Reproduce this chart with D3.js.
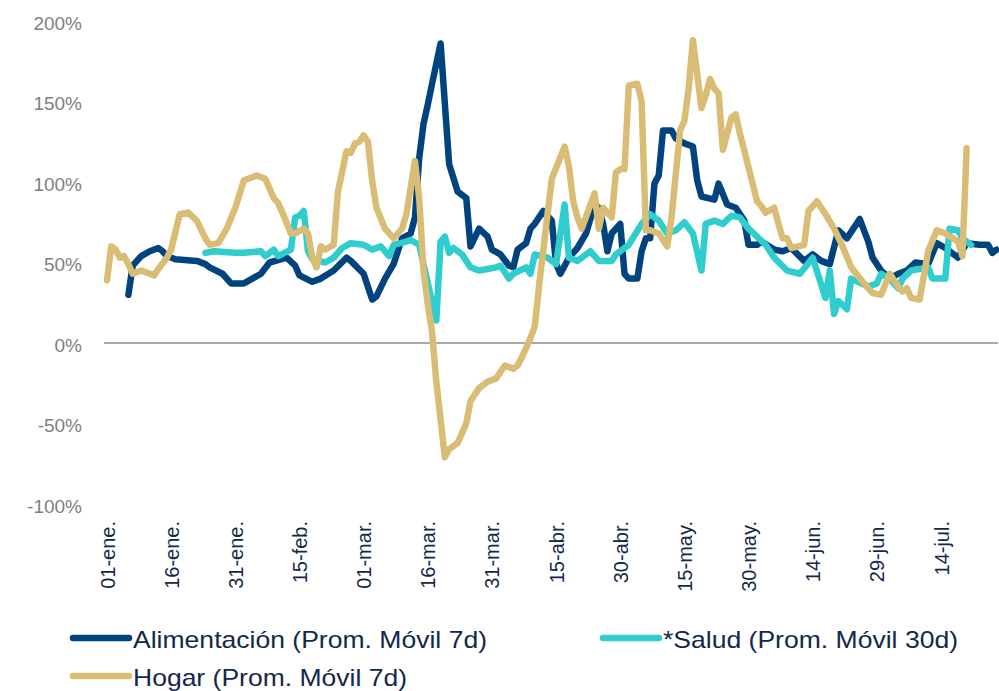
<!DOCTYPE html>
<html>
<head>
<meta charset="utf-8">
<script src="https://cdn.jsdelivr.net/npm/d3@7"></script>
<style>
  body { margin: 0; background: #fff; }
  svg { display: block; font-family: "Liberation Sans", Arial, sans-serif; }
</style>
</head>
<body>
<svg id="plotSvg"></svg>
<script>
// dias desde 01-ene-2020, valor en %
var inicio = "2020-01-01";

var alimentacion = [
  [5,30],[6,48],[8,54],[10,57],[12,59],[13,57],[14,54],[16,52],[21,51],[23,49],[24,47],[27,43],
  [29,37],[32,37],[34,40],[36,43],[38,50],[42,53],[44,48],[45,42],[48,38],[50,40],[53,45],[56,53],
  [57,51],[60,43],[62,27],[63,29],[65,40],[67,49],[69,65],[71,68],[72,78],[73,115],[74,136],[75,148],
  [76,161],[78,186],[80,111],[82,94],[84,90],[85,60],[87,71],[89,66],[90,58],[92,55],[94,48],[95,47],
  [96,58],[98,62],[99,71],[100,74],[102,82],[104,76],[105,49],[106,43],[108,53],[110,59],[112,68],
  [114,86],[115,84],[116,74],[117,57],[118,68],[120,74],[121,43],[122,40],[124,40],[125,57],[126,65],
  [127,65],[128,99],[129,104],[130,132],[132,132],[133,127],[135,124],[137,122],[138,101],[139,91],
  [142,89],[143,99],[145,86],[147,84],[149,76],[150,61],[152,61],[153,63],[156,58],[158,57],[160,59],
  [163,51],[165,55],[167,51],[169,49],[171,70],[173,65],[176,77],[178,63],[179,53],[181,45],[183,40],
  [185,43],[187,45],[189,50],[192,49],[194,62],[196,59],[199,53],[201,62],[204,61],[206,61],[207,56],
  [208,58]
];

var salud = [
  [23,56],[25,57],[30,56],[32,56],[36,57],[37,54],[39,58],[40,54],[43,58],[44,78],[45,79],[46,82],
  [47,57],[48,52],[51,50],[53,53],[55,59],[57,62],[60,61],[62,58],[64,60],[66,54],[67,61],[70,63],
  [71,64],[73,61],[74,49],[77,14],[78,63],[79,66],[80,56],[81,59],[83,55],[85,47],[87,45],[89,46],
  [91,47],[92,48],[94,40],[95,43],[98,47],[99,43],[100,55],[103,53],[105,49],[107,86],[108,53],
  [110,51],[113,57],[115,51],[118,51],[119,55],[122,61],[125,74],[127,80],[129,76],[131,68],[133,70],
  [135,75],[137,68],[139,45],[140,74],[142,76],[144,74],[146,79],[148,78],[150,71],[152,66],[154,61],
  [156,53],[159,45],[162,43],[165,53],[168,28],[169,45],[170,18],[171,26],[173,21],[174,40],[178,35],
  [180,37],[181,43],[183,40],[185,34],[186,40],[188,45],[192,47],[193,40],[196,40],[197,71],[199,70],
  [200,65],[202,61]
];

var hogar = [
  [0,39],[1,60],[2,58],[3,53],[4,54],[5,49],[6,43],[8,45],[10,43],[11,42],[12,46],[14,53],[15,58],
  [17,80],[19,81],[21,76],[23,65],[24,61],[26,62],[28,71],[30,84],[32,101],[33,102],[35,104],[37,102],
  [39,90],[40,87],[41,81],[43,68],[44,68],[46,71],[47,68],[48,53],[49,47],[50,60],[51,58],[53,61],
  [54,94],[56,119],[57,118],[58,124],[59,125],[60,129],[61,125],[62,101],[63,84],[65,71],[67,65],
  [69,71],[70,80],[72,113],[73,90],[74,45],[75,24],[76,7],[77,-24],[79,-71],[80,-66],[82,-62],
  [84,-50],[85,-36],[87,-28],[89,-24],[91,-22],[93,-14],[95,-16],[96,-14],[97,-9],[99,3],[100,10],
  [101,35],[103,80],[104,102],[107,122],[108,110],[109,88],[110,78],[111,71],[114,93],[115,71],
  [116,84],[118,78],[119,106],[120,108],[121,108],[122,160],[124,161],[125,150],[126,70],[127,70],
  [129,68],[131,60],[132,78],[134,132],[135,138],[136,158],[137,188],[139,146],[140,154],[141,164],
  [142,158],[143,155],[144,120],[146,140],[147,142],[148,130],[150,109],[152,88],[153,85],[154,81],
  [156,84],[157,74],[158,65],[159,65],[160,59],[163,61],[164,82],[166,88],[168,80],[170,71],[172,60],
  [174,47],[177,37],[179,31],[181,30],[183,43],[185,35],[186,32],[187,34],[188,28],[190,27],[192,57],
  [194,70],[196,68],[199,63],[200,54],[201,121]
];

var tickDias = [0, 15, 30, 45, 60, 75, 90, 105, 120, 135, 150, 165, 180, 195];
var tickLabels = ["01-ene.", "16-ene.", "31-ene.", "15-feb.", "01-mar.", "16-mar.", "31-mar.",
  "15-abr.", "30-abr.", "15-may.", "30-may.", "14-jun.", "29-jun.", "14-jul."];
var yTicks = [-100, -50, 0, 50, 100, 150, 200];

var series = [
  { nombre: "Alimentación (Prom. Móvil 7d)", datos: alimentacion, color: "#00437f" },
  { nombre: "*Salud (Prom. Móvil 30d)", datos: salud, color: "#2fcdcd" },
  { nombre: "Hogar (Prom. Móvil 7d)", datos: hogar, color: "#d9bd75" }
];

var width = 999, height = 691;
var svg = d3.select("#plotSvg").attr("width", width).attr("height", height);

var t0 = d3.utcParse("%Y-%m-%d")(inicio);
function fecha(d) { return d3.utcDay.offset(t0, d); }

var x = d3.scaleUtc()
  .domain([fecha(0), fecha(195)])
  .range([107, 941]);

var y = d3.scaleLinear()
  .domain([-100, 200])
  .range([504, 21]);

// eje Y (solo etiquetas)
var yAxis = d3.axisLeft(y)
  .tickValues(yTicks)
  .tickSize(0)
  .tickPadding(0)
  .tickFormat(function(d) { return d + "%"; });

var gy = svg.append("g")
  .attr("transform", "translate(82,2)")
  .call(yAxis);
gy.select(".domain").remove();
gy.selectAll("text")
  .attr("fill", "#7f7f7f")
  .attr("font-size", 19)
  .attr("font-family", "Liberation Sans, Arial, sans-serif");

// linea del 0%
svg.append("line")
  .attr("x1", 104)
  .attr("x2", 998)
  .attr("y1", y(0))
  .attr("y2", y(0))
  .attr("stroke", "#8c8c8c")
  .attr("stroke-width", 1.5);

// eje X con etiquetas verticales
var xAxis = d3.axisBottom(x)
  .tickValues(tickDias.map(fecha))
  .tickSize(0)
  .tickFormat(function(d, i) { return tickLabels[i]; });

var gx = svg.append("g")
  .attr("transform", "translate(0,521)")
  .call(xAxis);
gx.select(".domain").remove();
gx.selectAll("text")
  .attr("fill", "#13284a")
  .attr("font-size", 20)
  .attr("font-family", "Liberation Sans, Arial, sans-serif")
  .attr("text-anchor", "end")
  .attr("transform", "rotate(-90)")
  .attr("x", 0)
  .attr("y", 0)
  .attr("dy", "0.35em");

var line = d3.line()
  .x(function(d) { return x(fecha(d[0])); })
  .y(function(d) { return y(d[1]); });

svg.append("g")
  .selectAll("path")
  .data(series)
  .enter().append("path")
  .attr("d", function(s) { return line(s.datos); })
  .attr("fill", "none")
  .attr("stroke", function(s) { return s.color; })
  .attr("stroke-width", 6.5)
  .attr("stroke-linejoin", "round")
  .attr("stroke-linecap", "round");

// leyenda
var legendPos = [
  { x: 73, y: 638, w: 354 },
  { x: 603, y: 638, w: 295 },
  { x: 73, y: 676, w: 274 }
];

var legend = svg.append("g")
  .selectAll("g")
  .data(series)
  .enter().append("g")
  .attr("transform", function(d, i) {
    return "translate(" + legendPos[i].x + "," + legendPos[i].y + ")";
  });

legend.append("line")
  .attr("x1", 0)
  .attr("x2", 56)
  .attr("stroke", function(d) { return d.color; })
  .attr("stroke-width", 6.5)
  .attr("stroke-linecap", "round");

legend.append("text")
  .attr("x", 60)
  .attr("y", 10)
  .attr("fill", "#13284a")
  .attr("font-size", 24)
  .attr("textLength", function(d, i) { return legendPos[i].w; })
  .attr("lengthAdjust", "spacingAndGlyphs")
  .text(function(d) { return d.nombre; });
</script>
</body>
</html>
